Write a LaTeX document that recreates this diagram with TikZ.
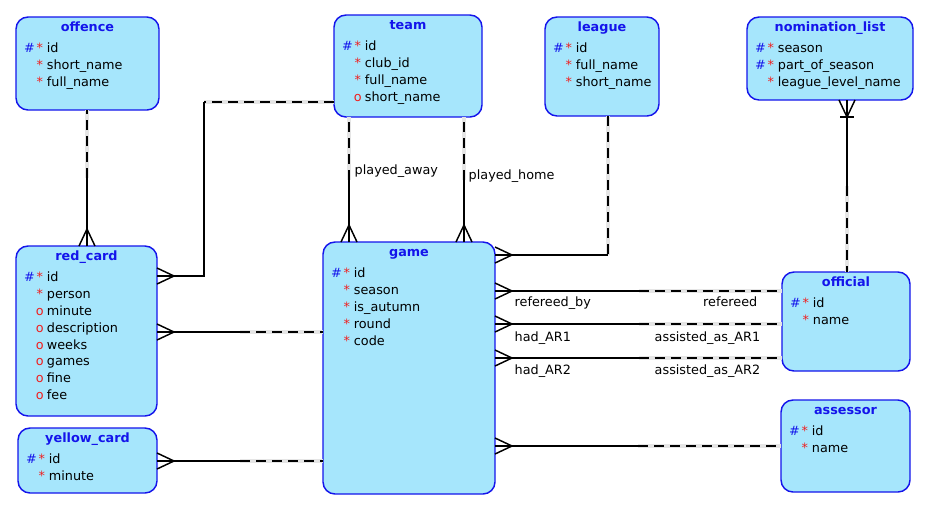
\documentclass[tikz,border=0pt]{standalone}
\usepackage{fontspec}
\setmainfont{DejaVu Sans}
\usetikzlibrary{calc}

\definecolor{entfill}{RGB}{166,230,252}
\definecolor{entline}{RGB}{20,20,235}
\definecolor{keyblue}{RGB}{20,20,235}
\definecolor{attred}{RGB}{240,30,30}

\newcommand{\mstar}{\makebox[9pt][l]{\hspace*{1.2pt}\color{attred}*}}
\newcommand{\pk}{\makebox[8pt][l]{\color{keyblue}\#}\mstar}
\newcommand{\mand}{\hspace*{8pt}\mstar}
\newcommand{\opt}{\hspace*{8pt}\makebox[9pt][l]{\hspace*{0.8pt}\color{attred}o}}
% attribute rows of an entity
\newcommand{\attrlist}[2]{\foreach \row [count=\i] in {#2} {\node[attr] (#1-a\i) at ($(#1.north west)+(7.5,{18.5+16.9*\i})$) {\row};}}
% solid half at the first end, dashed half at the second
\newcommand{\rel}[2]{\draw (#1) -- ($(#1)!0.5!(#2)$); \draw[dsh] ($(#1)!0.5!(#2)$) -- (#2);}

\tikzset{every picture/.style={line width=1.1pt}}
\tikzset{
  entity/.style 2 args={draw=entline, fill=entfill, rounded corners=9pt, inner sep=0pt, outer sep=0pt, anchor=north west, minimum width=#1*0.75pt, minimum height=#2*0.75pt},
  enttitle/.style={font=\bfseries\fontsize{9.6}{12}\selectfont, text=keyblue, anchor=base, inner sep=0pt},
  attr/.style={font=\fontsize{9.6}{12}\selectfont, anchor=base west, inner sep=0pt},
  lbl/.style={font=\fontsize{9.6}{12}\selectfont, inner sep=0pt, text height=5.2pt, text depth=0pt},
  dsh/.style={dash pattern=on 7.5pt off 4.5pt, preaction={draw=black!10, solid, line width=2.4pt}},
  crow/.pic={\draw (0,-8) -- (17,0) -- (0,8);},
  crowbar/.pic={\draw (0,-8) -- (17,0) -- (0,8); \draw (17,-7) -- (17,7);}
}

\begin{document}
\begin{tikzpicture}[x=0.75pt,y=0.75pt,yscale=-1]
\useasboundingbox (0,0) rectangle (926,508);

%Shape: Entity [offence]
\node[entity={143}{93}] (offence) at (16,17) {};
\node[enttitle] (offence-t) at ($(offence.north)+(0,14)$) {offence};
\attrlist{offence}{\pk id, \mand short\_name, \mand full\_name}
%Shape: Entity [team]
\node[entity={148}{102}] (team) at (334,15) {};
\node[enttitle] (team-t) at ($(team.north)+(0,14)$) {team};
\attrlist{team}{\pk id, \mand club\_id, \mand full\_name, \opt short\_name}
%Shape: Entity [league]
\node[entity={114}{99}] (league) at (545,17) {};
\node[enttitle] (league-t) at ($(league.north)+(0,14)$) {league};
\attrlist{league}{\pk id, \mand full\_name, \mand short\_name}
%Shape: Entity [nomination_list]
\node[entity={166}{83}] (nomination_list) at (747,17) {};
\node[enttitle] (nomination_list-t) at ($(nomination_list.north)+(0,14)$) {nomination\_list};
\attrlist{nomination_list}{\pk season, \pk part\_of\_season, \mand league\_level\_name}
%Shape: Entity [red_card]
\node[entity={141}{170}] (red_card) at (16,246) {};
\node[enttitle] (red_card-t) at ($(red_card.north)+(0,14)$) {red\_card};
\attrlist{red_card}{\pk id, \mand person, \opt minute, \opt description, \opt weeks, \opt games, \opt fine, \opt fee}
%Shape: Entity [yellow_card]
\node[entity={139}{65}] (yellow_card) at (18,428) {};
\node[enttitle] (yellow_card-t) at ($(yellow_card.north)+(0,14)$) {yellow\_card};
\attrlist{yellow_card}{\pk id, \mand minute}
%Shape: Entity [game]
\node[entity={172}{252}] (game) at (323,242) {};
\node[enttitle] (game-t) at ($(game.north)+(0,14)$) {game};
\attrlist{game}{\pk id, \mand season, \mand is\_autumn, \mand round, \mand code}
%Shape: Entity [official]
\node[entity={128}{99}] (official) at (782,272) {};
\node[enttitle] (official-t) at ($(official.north)+(0,14)$) {official};
\attrlist{official}{\pk id, \mand name}
%Shape: Entity [assessor]
\node[entity={129}{92}] (assessor) at (781,400) {};
\node[enttitle] (assessor-t) at ($(assessor.north)+(0,14)$) {assessor};
\attrlist{assessor}{\pk id, \mand name}

%Relationship: offence - red_card
\coordinate (of1) at (87,0 |- offence.south);
\coordinate (of2) at (87,0 |- red_card.north);
\rel{of2}{of1}
\pic[rotate=90] at (of2) {crow};
%Relationship: team - red_card
\coordinate (tr1) at (team.west |- 0,102);
\coordinate (tr2) at (204,102);
\coordinate (tr3) at (red_card.east |- 0,276);
\draw[dsh] (tr1) -- (tr2);
\draw (tr2) |- (tr3);
\pic at (tr3) {crow};
%Relationship: red_card - game
\coordinate (rg1) at (red_card.east |- 0,332);
\coordinate (rg2) at (game.west |- 0,332);
\rel{rg1}{rg2}
\pic at (rg1) {crow};
%Relationship: yellow_card - game
\coordinate (yg1) at (yellow_card.east |- 0,461);
\coordinate (yg2) at (game.west |- 0,461);
\rel{yg1}{yg2}
\pic at (yg1) {crow};
%Relationship: played_away
\coordinate (pa1) at (349,0 |- game.north);
\coordinate (pa2) at (349,0 |- team.south);
\rel{pa1}{pa2}
\pic[rotate=90] at (pa1) {crow};
%Relationship: played_home
\coordinate (ph1) at (464,0 |- game.north);
\coordinate (ph2) at (464,0 |- team.south);
\rel{ph1}{ph2}
\pic[rotate=90] at (ph1) {crow};
%Relationship: league - game
\coordinate (lg1) at (608,0 |- league.south);
\coordinate (lg2) at (608,255);
\coordinate (lg3) at (game.east |- 0,255);
\draw[dsh] (lg1) -- (lg2);
\draw (lg2) -- (lg3);
\pic at (lg3) {crow};
%Relationship: nomination_list - official
\coordinate (no1) at (847,0 |- nomination_list.south);
\coordinate (no2) at (847,0 |- official.north);
\rel{no1}{no2}
\pic[rotate=-90] at (no1) {crowbar};
%Relationship: refereed
\coordinate (ro1) at (game.east |- 0,291);
\coordinate (ro2) at (official.west |- 0,291);
\rel{ro1}{ro2}
\pic at (ro1) {crow};
%Relationship: assistant 1
\coordinate (a11) at (game.east |- 0,324);
\coordinate (a12) at (official.west |- 0,324);
\rel{a11}{a12}
\pic at (a11) {crow};
%Relationship: assistant 2
\coordinate (a21) at (game.east |- 0,358);
\coordinate (a22) at (official.west |- 0,358);
\rel{a21}{a22}
\pic at (a21) {crow};
%Relationship: game - assessor
\coordinate (as1) at (game.east |- 0,446);
\coordinate (as2) at (assessor.west |- 0,446);
\rel{as1}{as2}
\pic at (as1) {crow};

% Text Node
\node[lbl, anchor=west] (lb-away) at (354,171) {played\_away};
\node[lbl, anchor=west] (lb-home) at (468,176) {played\_home};
\node[lbl, anchor=west] (lb-refby) at (514,303) {refereed\_by};
\node[lbl, anchor=east] (lb-ref) at (758,303) {refereed};
\node[lbl, anchor=west] (lb-had1) at (514,338) {had\_AR1};
\node[lbl, anchor=east] (lb-as1) at (761,338) {assisted\_as\_AR1};
\node[lbl, anchor=west] (lb-had2) at (514,371) {had\_AR2};
\node[lbl, anchor=east] (lb-as2) at (761,371) {assisted\_as\_AR2};

\end{tikzpicture}
\end{document}
